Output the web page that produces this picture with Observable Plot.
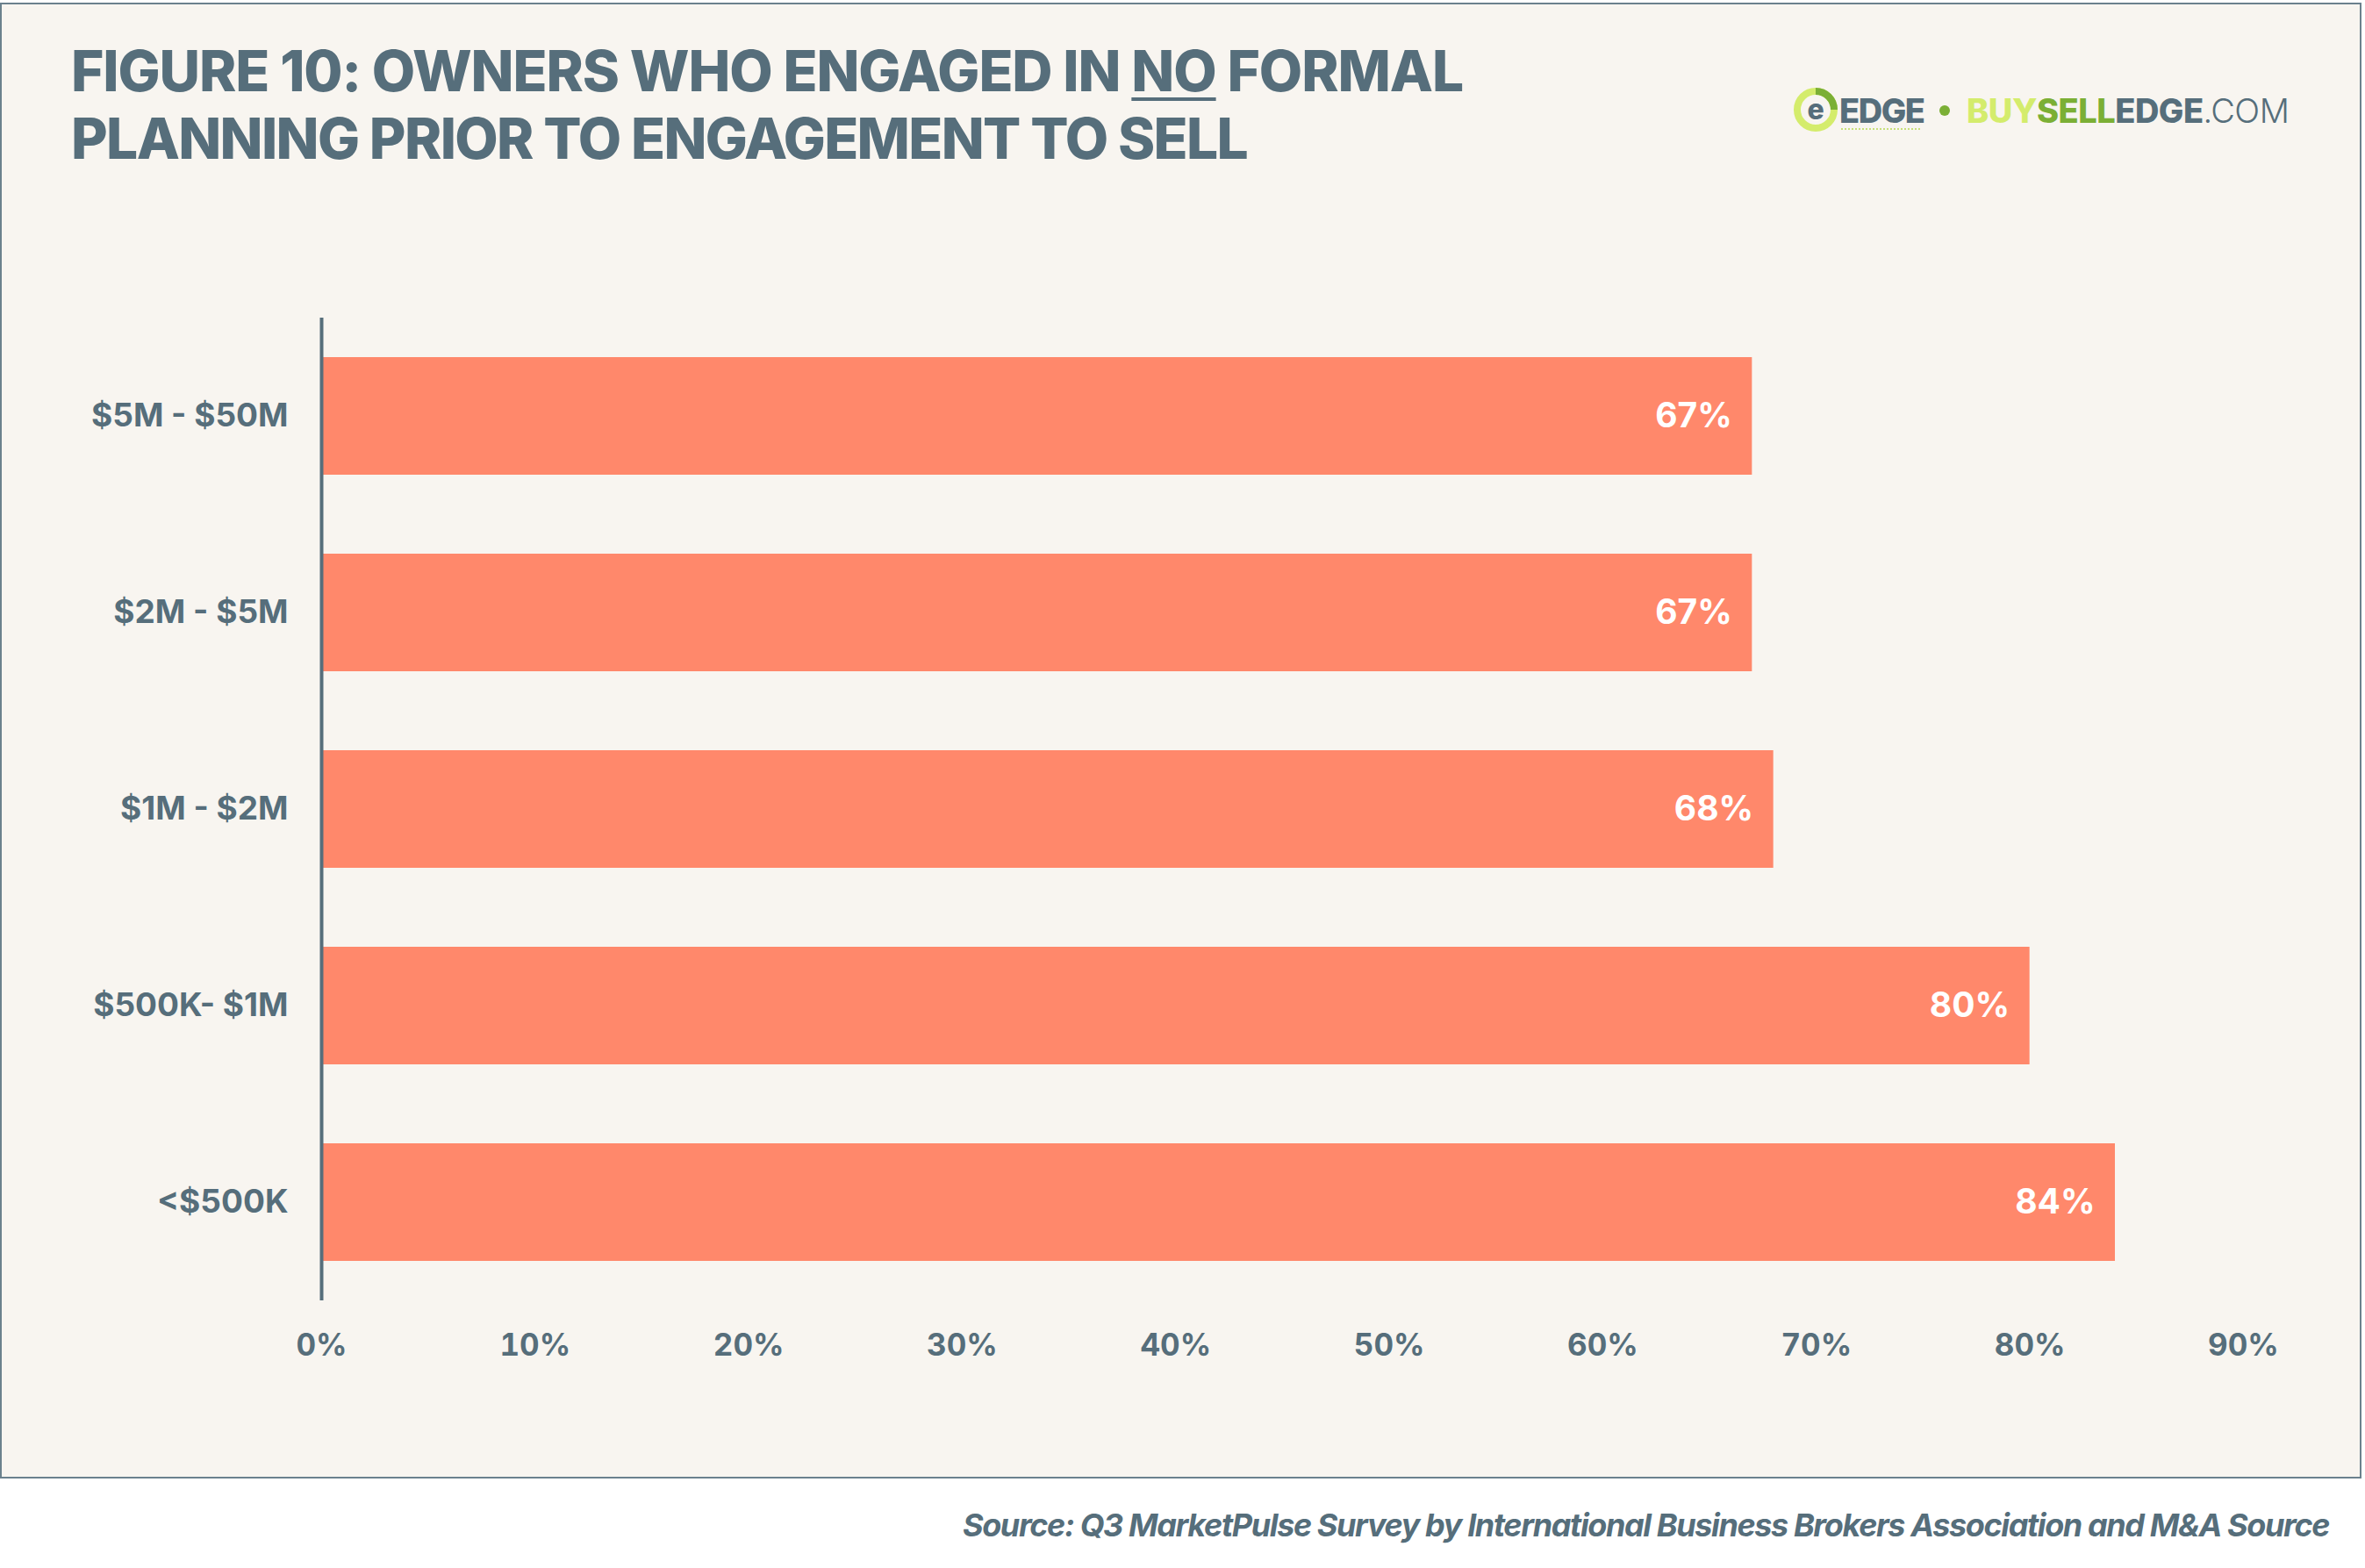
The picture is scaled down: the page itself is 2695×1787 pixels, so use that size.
<!DOCTYPE html>
<html>
<head>
<meta charset="utf-8">
<script src="https://cdn.jsdelivr.net/npm/d3@7"></script>
<script src="https://cdn.jsdelivr.net/npm/@observablehq/plot@0.6"></script>
<style>
  html, body { margin:0; padding:0; background:#ffffff; }
  #page { position:relative; width:2695px; height:1787px; overflow:hidden; font-family: Inter, "Open Sans", sans-serif; }
  #panel { position:absolute; left:0; top:3px; width:2691px; height:1682px; box-sizing:border-box;
           background:#F8F5F0; border:2px solid #6B818D; }
  .t { position:absolute; white-space:nowrap; color:#566E7B; }
  .title { font-weight:800; font-size:64px; line-height:77px; left:81px; }
  .title u { text-decoration-thickness:4px; text-underline-offset:7px; }
  #chart { position:absolute; left:0; top:0; }
  #source { font-weight:700; font-style:italic; font-size:36px; }
  #logo { position:absolute; left:2030px; top:90px; }
</style>
</head>
<body>
<div id="page">
  <div id="panel"></div>
  <div class="t title" id="t1" style="top:42px">FIGURE 10: OWNERS WHO ENGAGED IN <u>NO</u> FORMAL</div>
  <div class="t title" id="t2" style="top:119px">PLANNING PRIOR TO ENGAGEMENT TO SELL</div>
  <svg id="logo" width="640" height="80" viewBox="0 0 640 80">
    <circle cx="39" cy="35" r="21" fill="none" stroke="#D4EC6C" stroke-width="8"/>
    <path d="M39 14 A21 21 0 0 1 60 35" fill="none" stroke="#7BAF35" stroke-width="8"/>
    <text x="39" y="46" text-anchor="middle" font-family="Inter" font-weight="800" font-size="32" fill="#566E7B">e</text>
    <text x="66" y="50" font-family="Inter" font-weight="800" font-size="38" fill="#566E7B" letter-spacing="-1.5">EDGE</text>
    <line x1="68" y1="57" x2="160" y2="57" stroke="#C8E07A" stroke-width="2" stroke-dasharray="2 2"/>
    <circle cx="186" cy="36" r="6" fill="#7BAF35"/>
    <text x="211" y="50" font-family="Inter" font-weight="800" font-size="38" letter-spacing="-0.5"><tspan fill="#D4EC6C">BUY</tspan><tspan fill="#7BAF35">SELL</tspan><tspan fill="#566E7B">EDGE</tspan><tspan fill="#566E7B" font-weight="300">.COM</tspan></text>
  </svg>
  <div id="chart"></div>
  <div class="t" id="source" style="top:1716px; right:41px;">Source: Q3 MarketPulse Survey by International Business Brokers Association and M&amp;A Source</div>
</div>
<script>
const categories = ["$5M - $50M", "$2M - $5M", "$1M - $2M", "$500K- $1M", "<$500K"];
const values = [67, 67, 68, 80, 84];
const xTicks = [0, 10, 20, 30, 40, 50, 60, 70, 80, 90];

const slate = "#566E7B";
const barColor = "#FF886B";
const data = categories.map((c, i) => ({cat: c, value: values[i]}));

const chart = Plot.plot({
  width: 2695,
  height: 1600,
  marginLeft: 366,
  marginRight: 139,
  marginTop: 362,
  marginBottom: 118,
  style: {background: "transparent", fontFamily: "Inter, sans-serif", color: slate, overflow: "visible"},
  x: {domain: [0, 90], label: null},
  y: {domain: categories, paddingInner: 0.4, paddingOuter: 0.2, label: null},
  marks: [
    Plot.barX(data, {x: "value", y: "cat", fill: barColor}),
    Plot.ruleX([0], {stroke: slate, strokeWidth: 4}),
    Plot.text(data, {x: "value", y: "cat", text: d => d.value + "%", textAnchor: "end", dx: -23,
      fill: "white", fontSize: 39, fontWeight: 700}),
    Plot.axisX({ticks: xTicks, tickFormat: d => d + "%", tickSize: 0, tickPadding: 38,
      fontSize: 35, fontWeight: 700, fill: slate, label: null}),
    Plot.axisY({tickSize: 0, tickPadding: 38, fontSize: 37, fontWeight: 700, fill: slate, label: null})
  ]
});
document.getElementById("chart").appendChild(chart);

function fit(id, target) {
  const el = document.getElementById(id);
  el.style.letterSpacing = "0px";
  const w = el.getBoundingClientRect().width;
  const n = el.textContent.length;
  el.style.letterSpacing = ((target - w) / n) + "px";
}
function doFit() {
  fit("t1", 1586);
  fit("t2", 1340);
  fit("source", 1557);
}
doFit();
if (document.fonts && document.fonts.ready) document.fonts.ready.then(doFit);
</script>
</body>
</html>
